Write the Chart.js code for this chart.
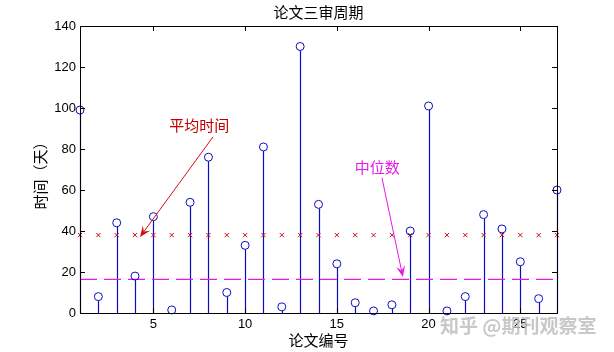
<!DOCTYPE html>
<html>
<head>
<meta charset="utf-8">
<script src="https://cdn.jsdelivr.net/npm/chart.js@4"></script>
<style>
  body { margin: 0; background: #fff; }
  #wrap { width: 614px; height: 352px; }
</style>
</head>
<body>
<div id="wrap"><canvas id="stemChart"></canvas></div>
<script>
// paper ids and review days
const paperIds = [1, 2, 3, 4, 5, 6, 7, 8, 9, 10, 11, 12, 13, 14, 15, 16, 17, 18, 19, 20, 21, 22, 23, 24, 25, 26, 27];
const reviewDays = [99, 8, 44, 18, 47, 1.5, 54, 76, 10, 33, 81, 3, 130, 53, 24, 5, 1, 4, 40, 101, 1, 8, 48, 41, 25, 7, 60];
const meanDays = 38;
const medianDays = 16.4;
const xTicks = [5, 10, 15, 20, 25];
const yTicks = [0, 20, 40, 60, 80, 100, 120, 140];

const BLUE = "#0c0cc0";
const RED = "#d01010";
const MAGENTA = "#e619e6";
const CJK = '"Noto Sans CJK SC", sans-serif';

// annotation anchors in data units
const meanNote = { text: "平均时间", tx: 7.5, ty: 91.7, x0: 8.25, y0: 85.9, x1: 4.27, y1: 37.1 };
const medianNote = { text: "中位数", tx: 17.2, ty: 71.2, x0: 17.46, y0: 65.9, x1: 18.6, y1: 17.6 };

function arrow(ctx, x0, y0, x1, y1, color) {
  const ang = Math.atan2(y1 - y0, x1 - x0);
  const len = 11, half = 4.5;
  ctx.strokeStyle = color;
  ctx.fillStyle = color;
  ctx.lineWidth = 1;
  ctx.beginPath();
  ctx.moveTo(x0, y0);
  ctx.lineTo(x1 - Math.cos(ang) * len * 0.6, y1 - Math.sin(ang) * len * 0.6);
  ctx.stroke();
  ctx.beginPath();
  ctx.moveTo(x1, y1);
  ctx.lineTo(x1 - Math.cos(ang) * len - Math.sin(ang) * half, y1 - Math.sin(ang) * len + Math.cos(ang) * half);
  ctx.lineTo(x1 - Math.cos(ang) * len * 0.6, y1 - Math.sin(ang) * len * 0.6);
  ctx.lineTo(x1 - Math.cos(ang) * len + Math.sin(ang) * half, y1 - Math.sin(ang) * len - Math.cos(ang) * half);
  ctx.closePath();
  ctx.fill();
}

// stems from 0 up to each value
const stemPlugin = {
  id: "stems",
  beforeDatasetsDraw(chart) {
    const { ctx, scales: { x, y } } = chart;
    ctx.save();
    ctx.strokeStyle = BLUE;
    ctx.lineWidth = 1.2;
    paperIds.forEach((id, i) => {
      const px = Math.round(x.getPixelForValue(id)) + 0.5;
      ctx.beginPath();
      ctx.moveTo(px, y.getPixelForValue(0));
      ctx.lineTo(px, y.getPixelForValue(reviewDays[i]) + 4);
      ctx.stroke();
    });
    ctx.restore();
  }
};

// box, inward ticks, titles, notes
const framePlugin = {
  id: "frame",
  afterDraw(chart) {
    const { ctx, chartArea: a, scales: { x, y } } = chart;
    ctx.save();
    ctx.strokeStyle = "#000";
    ctx.lineWidth = 1;
    ctx.strokeRect(Math.round(a.left) + 0.5, Math.round(a.top) + 0.5, Math.round(a.right - a.left), Math.round(a.bottom - a.top));
    ctx.beginPath();
    xTicks.forEach(v => {
      const px = Math.round(x.getPixelForValue(v)) + 0.5;
      ctx.moveTo(px, a.bottom); ctx.lineTo(px, a.bottom - 5);
      ctx.moveTo(px, a.top); ctx.lineTo(px, a.top + 5);
    });
    yTicks.forEach(v => {
      const py = Math.round(y.getPixelForValue(v)) + 0.5;
      ctx.moveTo(a.left, py); ctx.lineTo(a.left + 5, py);
      ctx.moveTo(a.right, py); ctx.lineTo(a.right - 5, py);
    });
    ctx.stroke();

    ctx.fillStyle = "#000";
    ctx.textAlign = "center";
    ctx.textBaseline = "middle";
    ctx.font = "15px " + CJK;
    ctx.fillText("论文三审周期", (a.left + a.right) / 2, 12);
    ctx.fillText("论文编号", (a.left + a.right) / 2, 340);
    ctx.save();
    ctx.translate(40, 172);
    ctx.rotate(-Math.PI / 2);
    ctx.fillText("时间（天）", 0, 0);
    ctx.restore();

    [[meanNote, "#c00000", RED], [medianNote, MAGENTA, MAGENTA]].forEach(([n, tc, ac]) => {
      ctx.fillStyle = tc;
      ctx.fillText(n.text, x.getPixelForValue(n.tx), y.getPixelForValue(n.ty));
      arrow(ctx, x.getPixelForValue(n.x0), y.getPixelForValue(n.y0), x.getPixelForValue(n.x1), y.getPixelForValue(n.y1), ac);
    });

    // watermark
    ctx.font = "bold 19px " + CJK;
    ctx.textAlign = "left";
    ctx.fillStyle = "rgba(190,190,190,0.85)";
    ctx.fillText("知乎 @期刊观察室", 440, 326);
    ctx.restore();
  }
};

new Chart(document.getElementById("stemChart"), {
  type: "scatter",
  data: {
    datasets: [
      {
        data: paperIds.map((id, i) => ({ x: id, y: reviewDays[i] })),
        pointStyle: "circle",
        pointRadius: 4,
        borderColor: BLUE,
        backgroundColor: "rgba(0,0,0,0)",
        borderWidth: 1,
        clip: false
      },
      {
        data: paperIds.map(id => ({ x: id, y: meanDays })),
        pointStyle: "crossRot",
        pointRadius: 3,
        borderColor: RED,
        borderWidth: 1,
        clip: false
      },
      {
        type: "line",
        data: [{ x: paperIds[0], y: medianDays }, { x: paperIds[paperIds.length - 1], y: medianDays }],
        borderColor: MAGENTA,
        borderWidth: 1.2,
        borderDash: [17, 7],
        pointRadius: 0,
        fill: false,
        clip: false
      }
    ]
  },
  options: {
    responsive: true,
    maintainAspectRatio: false,
    animation: false,
    layout: { padding: { top: 26, right: 57, left: 0, bottom: 0 } },
    plugins: { legend: { display: false }, tooltip: { enabled: false }, title: { display: false } },
    scales: {
      x: {
        type: "linear",
        min: 1,
        max: 27,
        afterBuildTicks: s => { s.ticks = xTicks.map(v => ({ value: v })); },
        afterFit: s => { s.height = 39; },
        grid: { display: false, drawTicks: false },
        border: { display: false },
        ticks: { padding: 4, color: "#000", font: { family: "Liberation Sans", size: 13 } }
      },
      y: {
        min: 0,
        max: 140,
        afterBuildTicks: s => { s.ticks = yTicks.map(v => ({ value: v })); },
        afterFit: s => { s.width = 80; },
        grid: { display: false, drawTicks: false },
        border: { display: false },
        ticks: { padding: 4, color: "#000", font: { family: "Liberation Sans", size: 13 } }
      }
    }
  },
  plugins: [stemPlugin, framePlugin]
});
</script>
</body>
</html>
